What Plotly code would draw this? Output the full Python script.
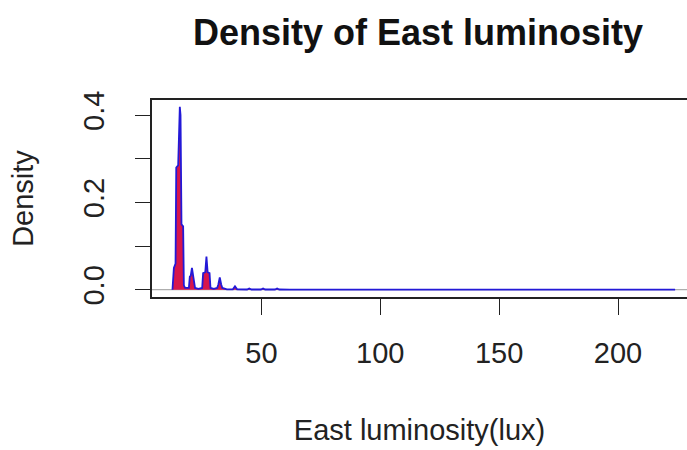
import plotly.graph_objects as go

# Kernel density estimate of east-facing luminosity (lux)
lux = [12.6, 13.2, 13.9, 14.2, 15.0, 15.5, 15.7, 16.0, 16.2, 16.4, 17.1, 17.4, 17.9,
       19.5, 19.9, 20.3, 20.8, 21.3, 21.7, 22.1,
       23.5,
       25.1, 25.5, 26.4, 26.9, 27.4, 28.2, 28.6,
       30.0,
       31.4, 31.9, 32.5, 33.1, 33.6,
       35.5,
       38.0, 38.9, 39.8,
       44.0, 44.9, 45.8,
       49.8, 50.7, 51.6,
       55.7, 56.6, 57.5,
       62.0, 100.0, 150.0, 200.0, 224.0]
density = [0.0, 0.05, 0.06, 0.28, 0.285, 0.40, 0.419, 0.40, 0.29, 0.15, 0.145, 0.01, 0.004,
           0.004, 0.03, 0.032, 0.050, 0.03, 0.025, 0.004,
           0.002,
           0.004, 0.038, 0.04, 0.076, 0.04, 0.038, 0.004,
           0.002,
           0.004, 0.012, 0.028, 0.012, 0.004,
           0.001,
           0.001, 0.008, 0.001,
           0.0005, 0.003, 0.0005,
           0.0005, 0.003, 0.0005,
           0.0005, 0.003, 0.0005,
           0.0002, 0.0, 0.0, 0.0, 0.0]

x_ticks = [50, 100, 150, 200]
y_ticks = [0.0, 0.1, 0.2, 0.3, 0.4]
y_tick_text = ["0.0", "", "0.2", "", "0.4"]

FONT = "Liberation Sans, Arial, sans-serif"
INK = "#222222"

fig = go.Figure()
fig.add_trace(go.Scatter(
    x=lux, y=density,
    mode="lines",
    fill="tozeroy",
    fillcolor="rgb(215,22,75)",
    line=dict(color="rgb(35,25,215)", width=1.8),
    hoverinfo="skip",
    showlegend=False,
))

# grey zero line, as drawn by a base density plot
fig.add_shape(type="line", xref="paper", yref="y", x0=0, x1=1, y0=0, y1=0,
              line=dict(color="#9a9a9a", width=1), layer="below")

fig.update_layout(
    width=687, height=450,
    margin=dict(l=152, r=0, t=100, b=153),
    paper_bgcolor="white", plot_bgcolor="white",
    font=dict(family=FONT, color=INK, size=29),
    title=dict(text="<b>Density of East luminosity</b>",
               x=(152 + 684) / 2 / 687, xanchor="center",
               y=1 - 32 / 450, yanchor="middle", yref="container",
               font=dict(size=36, color="#111111", family=FONT)),
    xaxis=dict(
        range=[4.0, 229.0], tickvals=x_ticks, ticks="outside", ticklen=16,
        tickwidth=1.2, tickcolor=INK, showgrid=False, zeroline=False,
        showline=True, linecolor=INK, linewidth=1.5, mirror=True,
        ticklabelstandoff=13,
        title=dict(text="East luminosity(lux)", standoff=52,
                   font=dict(size=29, color=INK)),
        tickfont=dict(size=29, color=INK),
    ),
    yaxis=dict(
        range=[-0.0167, 0.4347], tickvals=y_ticks, ticktext=y_tick_text,
        ticks="outside", ticklen=15, tickwidth=1.2, tickcolor=INK,
        tickangle=-90, showgrid=False, zeroline=False,
        showline=True, linecolor=INK, linewidth=1.5,
        ticklabelstandoff=20,
        title=dict(text="Density", standoff=36, font=dict(size=29, color=INK)),
        tickfont=dict(size=29, color=INK),
    ),
)

fig.write_html("out.html")
